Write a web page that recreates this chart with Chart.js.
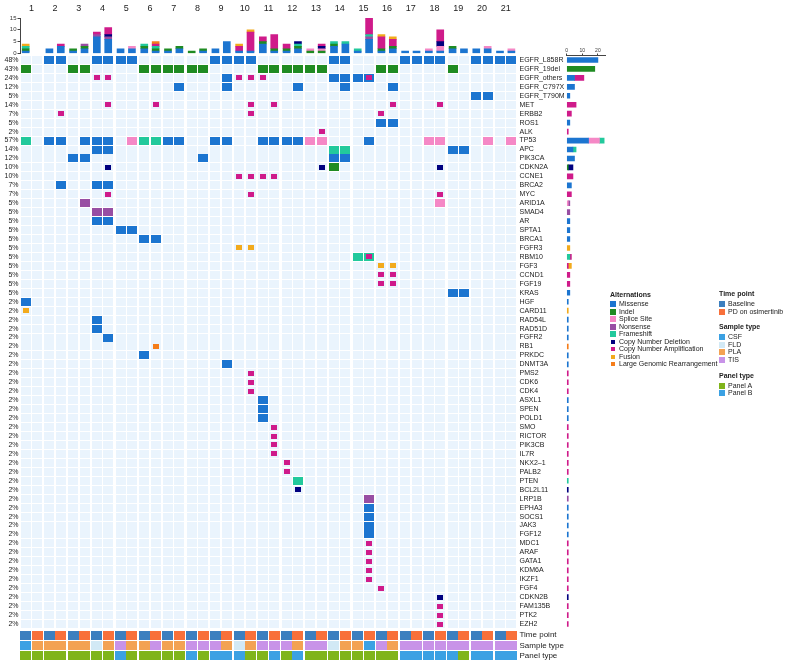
<!DOCTYPE html>
<html>
<head>
<meta charset="utf-8">
<script src="https://cdn.jsdelivr.net/npm/chart.js@4.4.0/dist/chart.umd.min.js"></script>
<style>
  html, body { margin: 0; padding: 0; background: #fff; }
  #wrap { position: relative; width: 788px; height: 663px; overflow: hidden; font-family: "Liberation Sans", Arial, sans-serif; color: #222; }
  #wrap canvas { position: absolute; left: 0; top: 0; }
  .lgTitle { position: absolute; font-size: 7px; font-weight: bold; line-height: 8px; white-space: nowrap; }
  .lgItem { position: absolute; font-size: 7px; line-height: 8px; white-space: nowrap; }
  .sw { position: absolute; }
</style>
</head>
<body>
<div id="wrap">
  <canvas id="mainChart" width="788" height="663"></canvas>
  <canvas id="topChart" width="788" height="663"></canvas>
  <canvas id="sideChart" width="788" height="663"></canvas>
  <canvas id="annChart" width="788" height="690"></canvas>
  <div id="legend"></div>
</div>
<script>
// ---- data ----
const patients = ['1','2','3','4','5','6','7','8','9','10','11','12','13','14','15','16','17','18','19','20','21'];

const genes = ['EGFR_L858R','EGFR_19del','EGFR_others','EGFR_C797X','EGFR_T790M','MET','ERBB2','ROS1','ALK','TP53',
  'APC','PIK3CA','CDKN2A','CCNE1','BRCA2','MYC','ARID1A','SMAD4','AR','SPTA1','BRCA1','FGFR3','RBM10','FGF3','CCND1',
  'FGF19','KRAS','HGF','CARD11','RAD54L','RAD51D','FGFR2','RB1','PRKDC','DNMT3A','PMS2','CDK6','CDK4','ASXL1','SPEN',
  'POLD1','SMO','RICTOR','PIK3CB','IL7R','NKX2\u20131','PALB2','PTEN','BCL2L11','LRP1B','EPHA3','SOCS1','JAK3','FGF12',
  'MDC1','ARAF','GATA1','KDM6A','IKZF1','FGF4','CDKN2B','FAM135B','PTK2','EZH2'];

const pctLabels = ['48%','43%','24%','12%','5%','14%','7%','5%','2%','57%',
  '14%','12%','10%','10%','7%','7%','5%','5%','5%','5%','5%','5%','5%','5%','5%',
  '5%','5%','2%','2%','2%','2%','2%','2%','2%','2%','2%','2%','2%','2%','2%',
  '2%','2%','2%','2%','2%','2%','2%','2%','2%','2%','2%','2%','2%','2%',
  '2%','2%','2%','2%','2%','2%','2%','2%','2%','2%'];

// samples: column 0..41, two per patient (baseline, PD on osimertinib)
const missense = [
  ['EGFR_L858R', [2,3,6,7,8,9,16,17,18,19,26,27,32,33,34,35,38,39,40,41]],
  ['EGFR_others', [17,26,27,28,29]],
  ['EGFR_C797X', [13,17,23,27,31]],
  ['EGFR_T790M', [38,39]],
  ['ROS1', [30,31]],
  ['TP53', [2,3,5,6,7,12,13,16,17,20,21,22,23,29]],
  ['APC', [6,7,36,37]],
  ['PIK3CA', [4,5,15,26,27]],
  ['BRCA2', [3,6,7]],
  ['AR', [6,7]],
  ['SPTA1', [8,9]],
  ['BRCA1', [10,11]],
  ['KRAS', [36,37]],
  ['HGF', [0]],
  ['RAD54L', [6]],
  ['RAD51D', [6]],
  ['FGFR2', [7]],
  ['PRKDC', [10]],
  ['DNMT3A', [17]],
  ['ASXL1', [20]], ['SPEN', [20]], ['POLD1', [20]],
  ['EPHA3', [29]], ['SOCS1', [29]], ['JAK3', [29]], ['FGF12', [29]]
];
const indel = [
  ['EGFR_19del', [0,4,5,10,11,12,13,14,15,20,21,22,23,24,25,30,31,36]],
  ['CDKN2A', [26]]
];
const spliceSite = [
  ['TP53', [9,24,25,34,35,39,41]],
  ['ARID1A', [35]]
];
const nonsense = [
  ['ARID1A', [5]],
  ['SMAD4', [6,7]],
  ['LRP1B', [29]]
];
const frameshift = [
  ['TP53', [0,10,11]],
  ['APC', [26,27]],
  ['RBM10', [28,29]],
  ['PTEN', [23]]
];
const cnDeletion = [
  ['CDKN2A', [7,25,35]],
  ['BCL2L11', [23]],
  ['CDKN2B', [35]]
];
const cnAmplification = [
  ['EGFR_others', [6,7,18,19,20,29]],
  ['MET', [7,11,19,21,31,35]],
  ['ERBB2', [3,19,30]],
  ['ALK', [25]],
  ['CCNE1', [18,19,20,21]],
  ['MYC', [7,19,35]],
  ['RBM10', [29]],
  ['FGF3', [30]],
  ['CCND1', [30,31]],
  ['FGF19', [30,31]],
  ['PMS2', [19]], ['CDK6', [19]], ['CDK4', [19]],
  ['SMO', [21]], ['RICTOR', [21]], ['PIK3CB', [21]], ['IL7R', [21]],
  ['NKX2\u20131', [22]], ['PALB2', [22]],
  ['MDC1', [29]], ['ARAF', [29]], ['GATA1', [29]], ['KDM6A', [29]], ['IKZF1', [29]],
  ['FGF4', [30]],
  ['FAM135B', [35]], ['PTK2', [35]], ['EZH2', [35]]
];
const fusion = [
  ['CARD11', [0]],
  ['FGFR3', [18,19]],
  ['FGF3', [30,31]]
];
const largeRearrangement = [
  ['RB1', [11]]
];

const timePoint = ['B','P','B','P','B','P','B','P','B','P','B','P','B','P','B','P','B','P','B','P','B',
  'P','B','P','B','P','B','P','B','P','B','P','B','P','B','P','B','P','B','P','B','P'];
const sampleType = ['CSF','PLA','PLA','PLA','PLA','PLA','FLD','PLA','TIS','PLA','PLA','TIS','PLA','PLA',
  'TIS','TIS','TIS','PLA','FLD','PLA','TIS','TIS','TIS','PLA','TIS','TIS','FLD','PLA','PLA','CSF',
  'TIS','PLA','TIS','TIS','TIS','TIS','TIS','TIS','TIS','TIS','TIS','TIS'];
const panelType = ['A','A','A','A','A','A','A','A','B','A','A','A','A','A','B','A','B','B','B','A','A',
  'B','A','B','A','A','A','A','A','A','A','A','B','B','B','B','B','A','B','B','B','B'];

// ---- styles ----
const alterTypes = [
  { label: 'Missense', color: '#1c75d0', big: true, cells: missense },
  { label: 'Indel', color: '#1f8b22', big: true, cells: indel },
  { label: 'Splice Site', color: '#f588c6', big: true, cells: spliceSite },
  { label: 'Nonsense', color: '#984ea3', big: true, cells: nonsense },
  { label: 'Frameshift', color: '#22c99c', big: true, cells: frameshift },
  { label: 'Copy Number Deletion', color: '#00007f', big: false, cells: cnDeletion },
  { label: 'Copy Number Amplification', color: '#cf1b8a', big: false, cells: cnAmplification },
  { label: 'Fusion', color: '#f2aa1c', big: false, cells: fusion },
  { label: 'Large Genomic Rearrangement', color: '#f57d1a', big: false, cells: largeRearrangement }
];
const annGroups = [
  { title: 'Time point', row: 'Time point', values: timePoint,
    cats: [['B', 'Baseline', '#3c7fbf'], ['P', 'PD on osimertinib', '#f8703a']] },
  { title: 'Sample type', row: 'Sample type', values: sampleType,
    cats: [['CSF', 'CSF', '#3ba1e3'], ['FLD', 'FLD', '#d2e9f5'], ['PLA', 'PLA', '#f3a253'], ['TIS', 'TIS', '#c893e8']] },
  { title: 'Panel type', row: 'Panel type', values: panelType,
    cats: [['A', 'Panel A', '#80b41a'], ['B', 'Panel B', '#3ba1e3']] }
];
const BG = '#eaf4fd';

// ---- layout ----
const W = 788, H = 663;
const areaL = 20.5, areaR = 517.5;
const gridTop = 55.5, gridBot = 628.5;
const PX0 = 25.7, PITCH = 23.715, PAIR = 0.48;
const xMin = (areaL - PX0) / PITCH, xMax = (areaR - PX0) / PITCH;
const geneAxisW = 60;
const nCols = timePoint.length;
const colX = c => Math.floor(c / 2) + (c % 2) * PAIR;

Chart.defaults.font.family = '"Liberation Sans", Arial, sans-serif';
Chart.defaults.color = '#222';

function cellImg(color, w, h) {
  const c = document.createElement('canvas');
  c.width = w; c.height = h;
  const g = c.getContext('2d');
  g.fillStyle = color;
  g.fillRect(0, 0, w, h);
  return c;
}

const baseOpts = {
  responsive: false,
  animation: false,
  events: [],
  plugins: { legend: { display: false }, tooltip: { enabled: false } }
};

// ---- main grid ----
const bgPts = [];
genes.forEach(g => { for (let c = 0; c < nCols; c++) bgPts.push({ x: colX(c), y: g }); });

// chart.js paints higher "order" first, so background gets the largest
const pointSet = (pts, img, order) => ({
  data: pts, pointStyle: img, pointRadius: 1, pointHoverRadius: 1, clip: false, showLine: false, order: order
});

const mainSets = [pointSet(bgPts, cellImg(BG, 10, 8), 30)];
alterTypes.forEach((t, i) => {
  const pts = [];
  t.cells.forEach(([g, cols]) => cols.forEach(c => pts.push({ x: colX(c), y: g })));
  mainSets.push(pointSet(pts, t.big ? cellImg(t.color, 10, 8) : cellImg(t.color, 6, 5), t.big ? 20 - i : 10 - i));
});

new Chart(document.getElementById('mainChart'), {
  type: 'scatter',
  data: { datasets: mainSets },
  options: {
    ...baseOpts,
    layout: { padding: { left: 0, right: W - areaR - geneAxisW, top: gridTop, bottom: H - gridBot } },
    scales: {
      x: { type: 'linear', min: xMin, max: xMax, display: false },
      y: {
        type: 'category', labels: genes, position: 'right', offset: true,
        grid: { display: false, drawTicks: false }, border: { display: false },
        ticks: { autoSkip: false, padding: 2, font: { size: 7 }, color: '#222' },
        afterFit: s => { s.width = geneAxisW; }
      },
      yl: {
        type: 'category', labels: pctLabels, position: 'left', offset: true,
        grid: { display: false, drawTicks: false }, border: { display: false },
        ticks: { autoSkip: false, padding: 2, font: { size: 7 }, color: '#222' },
        afterFit: s => { s.width = areaL; }
      }
    }
  }
});

// ---- top bars: alterations per sample ----
const topSets = alterTypes.map(t => {
  const counts = new Array(nCols).fill(0);
  t.cells.forEach(([g, cols]) => cols.forEach(c => counts[c]++));
  const pts = [];
  counts.forEach((v, c) => { if (v > 0) pts.push({ x: colX(c), y: v }); });
  return { data: pts, backgroundColor: t.color, barThickness: 7, borderWidth: 0 };
});

new Chart(document.getElementById('topChart'), {
  type: 'bar',
  data: { datasets: topSets },
  options: {
    ...baseOpts,
    layout: { padding: { left: 0, right: W - areaR, top: 4, bottom: H - 53.5 } },
    scales: {
      x: {
        type: 'linear', min: xMin, max: xMax, position: 'top', stacked: true, offset: false,
        grid: { display: false, drawTicks: false, offset: false }, border: { display: false },
        afterBuildTicks: s => { s.ticks = patients.map((p, i) => ({ value: i + PAIR / 2 })); },
        afterFit: s => { s.height = 14; },
        ticks: { autoSkip: false, maxRotation: 0, padding: 4, font: { size: 9 }, color: '#222',
          callback: (v, i) => patients[i] }
      },
      y: {
        stacked: true, min: 0, max: 15,
        ticks: { stepSize: 5, padding: 1, font: { size: 6 }, color: '#333' },
        grid: { drawOnChartArea: false, tickLength: 3, color: '#444' },
        border: { color: '#444' },
        afterFit: s => { s.width = areaL; }
      }
    }
  }
});

// ---- side bars: alterations per gene ----
const sideL = 566.7, sideUnit = 1.56, sideMax = 25;
const sideSets = alterTypes.map(t => {
  const counts = genes.map(() => 0);
  t.cells.forEach(([g, cols]) => { counts[genes.indexOf(g)] += cols.length; });
  return { data: counts.map(v => v || null), backgroundColor: t.color, barThickness: 5, borderWidth: 0 };
});

new Chart(document.getElementById('sideChart'), {
  type: 'bar',
  data: { labels: genes, datasets: sideSets },
  options: {
    ...baseOpts,
    indexAxis: 'y',
    layout: { padding: { left: sideL, right: W - sideL - sideMax * sideUnit, top: gridTop - 9, bottom: H - gridBot } },
    scales: {
      y: { stacked: true, display: false },
      x: {
        stacked: true, min: 0, max: sideMax, position: 'top',
        ticks: { stepSize: 10, includeBounds: false, padding: 0, font: { size: 5 }, color: '#333', maxRotation: 0 },
        grid: { drawOnChartArea: false, tickLength: 2, color: '#444' },
        border: { color: '#444' },
        afterFit: s => { s.height = 9; }
      }
    }
  }
});

// ---- annotation tracks (canvas taller than the page so label padding does not squeeze rows) ----
const annRows = annGroups.map(a => a.row);
const annSets = [];
annGroups.forEach(a => {
  a.cats.forEach(([code, name, color]) => {
    const pts = [];
    a.values.forEach((v, c) => { if (v === code) pts.push({ x: colX(c), y: a.row }); });
    annSets.push(pointSet(pts, cellImg(color, 11, 9), 1));
  });
});

new Chart(document.getElementById('annChart'), {
  type: 'scatter',
  data: { datasets: annSets },
  options: {
    ...baseOpts,
    layout: { padding: { left: areaL, right: W - areaR - geneAxisW, top: 630, bottom: 690 - 661 } },
    scales: {
      x: { type: 'linear', min: xMin, max: xMax, display: false },
      y: {
        type: 'category', labels: annRows, position: 'right', offset: true,
        grid: { display: false, drawTicks: false }, border: { display: false },
        ticks: { autoSkip: false, padding: 2, font: { size: 8 }, color: '#222' },
        afterFit: s => { s.width = geneAxisW; }
      }
    }
  }
});

// ---- legend ----
const legend = document.getElementById('legend');
function addTitle(text, x, y) {
  const d = document.createElement('div');
  d.className = 'lgTitle';
  d.style.left = x + 'px'; d.style.top = (y - 4) + 'px';
  d.textContent = text;
  legend.appendChild(d);
}
function addItem(text, color, x, y, big) {
  const s = document.createElement('div');
  s.className = 'sw';
  const sz = big ? 6 : 4;
  s.style.left = (x + (6 - sz) / 2) + 'px';
  s.style.top = (y - sz / 2) + 'px';
  s.style.width = sz + 'px'; s.style.height = sz + 'px';
  s.style.background = color;
  legend.appendChild(s);
  const d = document.createElement('div');
  d.className = 'lgItem';
  d.style.left = (x + 9) + 'px'; d.style.top = (y - 4) + 'px';
  d.textContent = text;
  legend.appendChild(d);
}
addTitle('Alternations', 610, 295);
alterTypes.forEach((t, i) => addItem(t.label, t.color, 610, 304 + i * 7.5, t.big));

let ly = 294;
annGroups.forEach(a => {
  addTitle(a.title, 719, ly);
  a.cats.forEach(([code, name, color], i) => addItem(name, color, 719, ly + 10 + i * 7.6, true));
  ly += 10 + a.cats.length * 7.6 + 8;
});
</script>
</body>
</html>
